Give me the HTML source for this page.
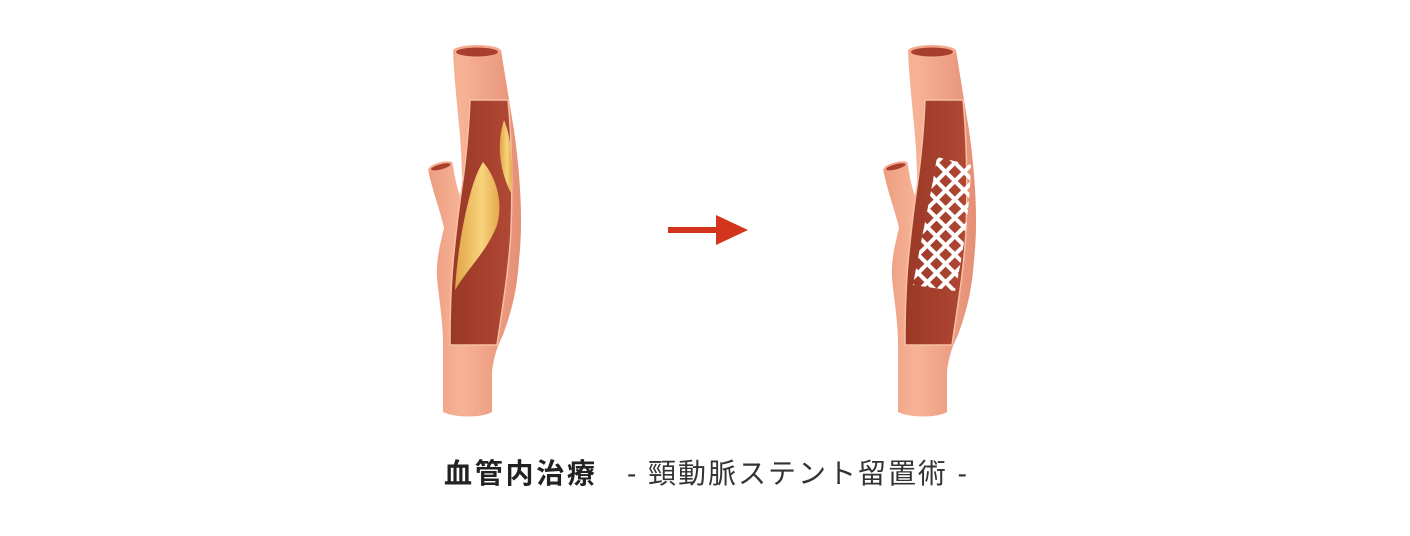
<!DOCTYPE html>
<html><head><meta charset="utf-8"><style>
html,body{margin:0;padding:0;background:#fff;}
svg{display:block}
</style></head><body>
<svg width="1410" height="536" viewBox="0 0 1410 536" xmlns="http://www.w3.org/2000/svg">
<defs>
<linearGradient id="skin" x1="0" x2="1" y1="0" y2="0">
<stop offset="0" stop-color="#ec9c80"/><stop offset="0.35" stop-color="#f7b396"/><stop offset="1" stop-color="#e58f75"/>
</linearGradient>
<linearGradient id="inner" x1="0" x2="1"><stop offset="0" stop-color="#9a3826"/><stop offset="1" stop-color="#b04834"/></linearGradient>
<linearGradient id="plaque" x1="0" x2="1"><stop offset="0" stop-color="#e0a448"/><stop offset="0.6" stop-color="#f8d47c"/><stop offset="1" stop-color="#e3a84e"/></linearGradient>
<g id="vessel">
  <path d="M453,52 C455,90 459,120 461,150 C462,175 463,190 462,200 C458,192 455,180 453,165 L428,169 C432,190 440,210 444,228 C440,245 436,260 437,278 C439,300 443,320 443,345 L443,412 C455,418 482,418 492,412 L492,372 C494,355 498,345 503,335 C512,310 517,290 519,260 C523,225 521,180 514,130 C509,100 505,75 501,50 Z" fill="url(#skin)"/>
  <ellipse cx="477" cy="51" rx="24" ry="6" fill="#f4a98d"/>
  <ellipse cx="477" cy="52" rx="21" ry="4.5" fill="#a83e2c"/>
  <ellipse cx="440.5" cy="166.5" rx="12.5" ry="4" fill="#f4a98d" transform="rotate(-15 440 166)"/>
  <ellipse cx="440.5" cy="167" rx="10" ry="2.6" fill="#a83e2c" transform="rotate(-15 440 166)"/>
  <path d="M470,100 L508,100 C511,130 513,180 511,230 C509,270 502,310 497,345 L450,345 C450,310 451,285 453,263 C456,230 460,200 463,180 C467,150 469,125 470,100 Z" fill="url(#inner)" stroke="#f7c0a5" stroke-width="1.5"/>
</g>
<clipPath id="sclip"><path d="M937,157 L971,165 C970,205 964,250 955,291 L913,285 C920,245 930,200 937,157 Z"/></clipPath>
<pattern id="mesh" patternUnits="userSpaceOnUse" width="13" height="13" patternTransform="rotate(45 940 220)">
  <rect width="13" height="13" fill="none" stroke="#fff" stroke-width="4"/>
</pattern>
</defs>

<use href="#vessel"/>
<path d="M504,120 C496,145 500,172 511,193 C513,165 512,140 504,120 Z" fill="url(#plaque)"/>
<path d="M483,162 C498,180 503,205 497,225 C488,250 468,268 455,290 C457,258 462,225 470,195 C474,180 478,170 483,162 Z" fill="url(#plaque)"/>

<use href="#vessel" transform="translate(455,0)"/>
<rect x="905" y="150" width="75" height="150" fill="url(#mesh)" clip-path="url(#sclip)"/>

<path d="M668,227 L716,227 L716,215 L748,230 L716,245 L716,233 L668,233 Z" fill="#d2341c"/>

<text x="444" y="483" font-family="'Liberation Sans','Noto Sans CJK JP',sans-serif" font-size="28" font-weight="bold" fill="#222" textLength="151" lengthAdjust="spacing">血管内治療</text>
<text x="627" y="483" font-family="'Liberation Sans','Noto Sans CJK JP',sans-serif" font-size="28" fill="#333" textLength="340" lengthAdjust="spacing">- 頸動脈ステント留置術 -</text>
</svg>
</body></html>
